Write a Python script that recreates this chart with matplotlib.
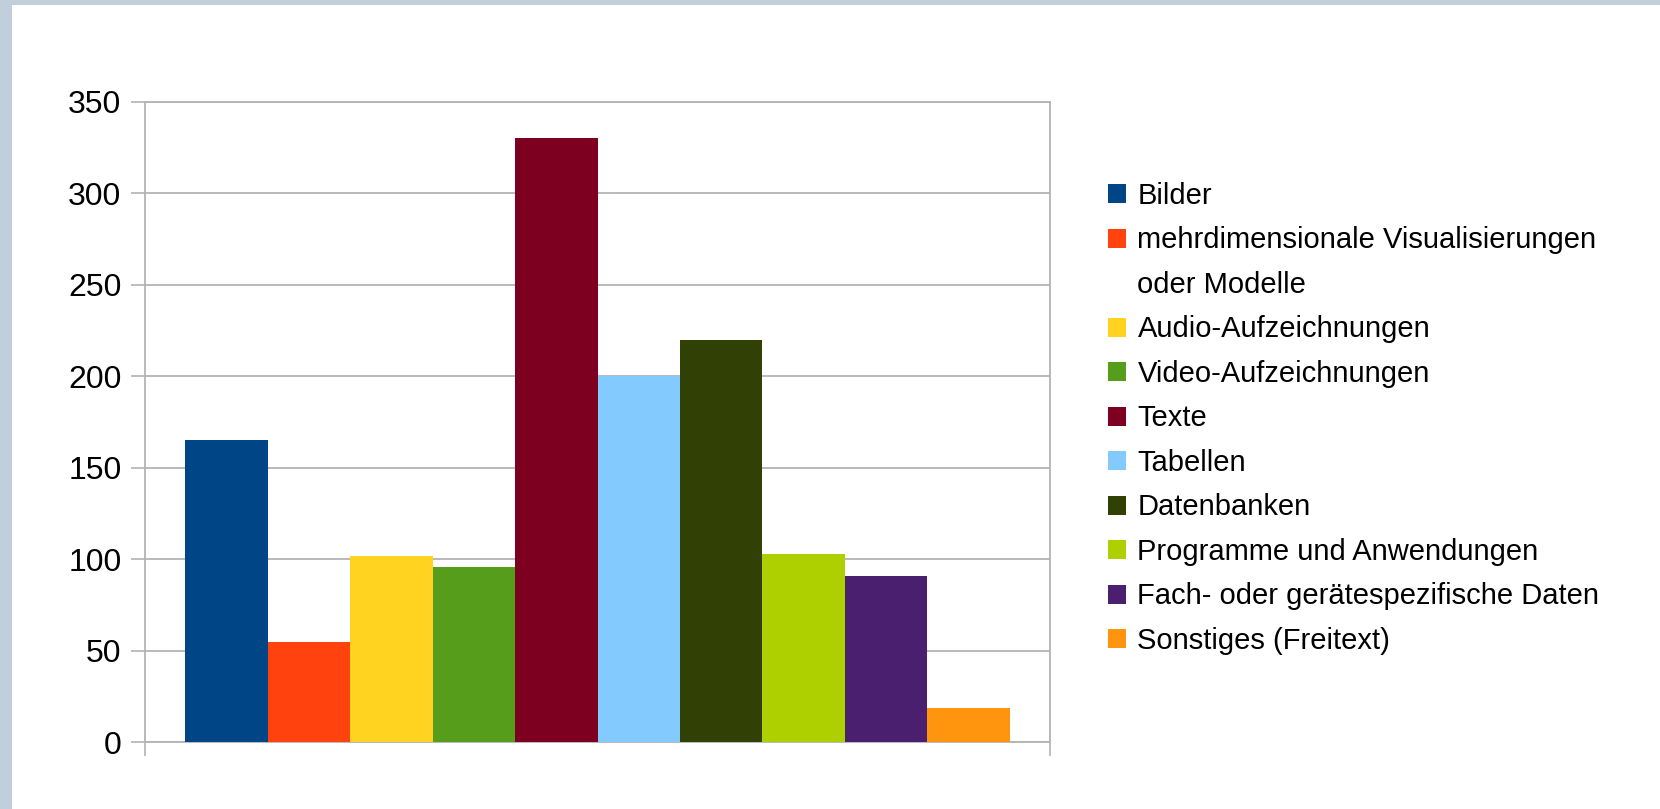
import matplotlib.pyplot as plt
from matplotlib.patches import Rectangle, Patch

categories = ["Bilder",
              "mehrdimensionale Visualisierungen\noder Modelle",
              "Audio-Aufzeichnungen",
              "Video-Aufzeichnungen",
              "Texte",
              "Tabellen",
              "Datenbanken",
              "Programme und Anwendungen",
              "Fach- oder gerätespezifische Daten",
              "Sonstiges (Freitext)"]
values = [165, 55, 102, 96, 330, 200, 220, 103, 91, 19]
colors = ["#004586", "#ff420e", "#ffd320", "#579d1c", "#7e0021",
          "#83caff", "#314004", "#aecf00", "#4b1f6f", "#ff950e"]
yTicks = [0, 50, 100, 150, 200, 250, 300, 350]

plt.rcParams["font.family"] = ["Liberation Sans", "DejaVu Sans"]
gridColor = "#b3b3b3"

fig = plt.figure(figsize=(16.6, 8.09), dpi=100)
fig.patch.set_facecolor("#c1cedb")
# white panel, leaves the light border on the left and on top
fig.patches.append(Rectangle((12/1660, 0), 1, 1 - 5/809, transform=fig.transFigure,
                             facecolor="white", edgecolor="none", zorder=-5))

ax = fig.add_axes([145/1660, 66.6/809, 905/1660, 640.7/809])
positions = list(range(len(values)))
ax.bar(positions, values, width=1.0, color=colors, zorder=3)

ax.set_ylim(0, 350)
ax.set_yticks(yTicks)
ax.set_xlim(-0.985, len(values) - 1 + 0.985)
# category boundary ticks like in the office chart
ax.set_xticks([-0.985, len(values) - 1 + 0.985])
ax.set_xticklabels([])
ax.yaxis.grid(True, color=gridColor, linewidth=1.3, zorder=0)
ax.set_axisbelow(True)
for side in ["left", "right", "top", "bottom"]:
    ax.spines[side].set_color(gridColor)
    ax.spines[side].set_linewidth(1.3)
ax.tick_params(axis="y", length=10, width=1.2, color=gridColor, pad=7,
               labelsize=23, direction="out")
ax.tick_params(axis="x", length=10, width=1.2, color=gridColor, direction="out")

# legend: wrapped labels get an empty handle for the extra line so the
# coloured square stays on the first line
handles = []
labels = []
for cat, col in zip(categories, colors):
    lines = cat.split("\n")
    handles.append(Patch(facecolor=col, edgecolor="none"))
    labels.append(lines[0])
    for extra in lines[1:]:
        handles.append(Patch(facecolor="none", edgecolor="none"))
        labels.append(extra)

leg = fig.legend(handles, labels, loc="upper left",
                 bbox_to_anchor=(1108/1660, 1 - 182/809), frameon=False,
                 fontsize=21, handlelength=0.63, handleheight=0.63,
                 handletextpad=0.38, labelspacing=0.565, borderpad=0,
                 borderaxespad=0)

fig.savefig("out.png", dpi=100, facecolor=fig.get_facecolor())
